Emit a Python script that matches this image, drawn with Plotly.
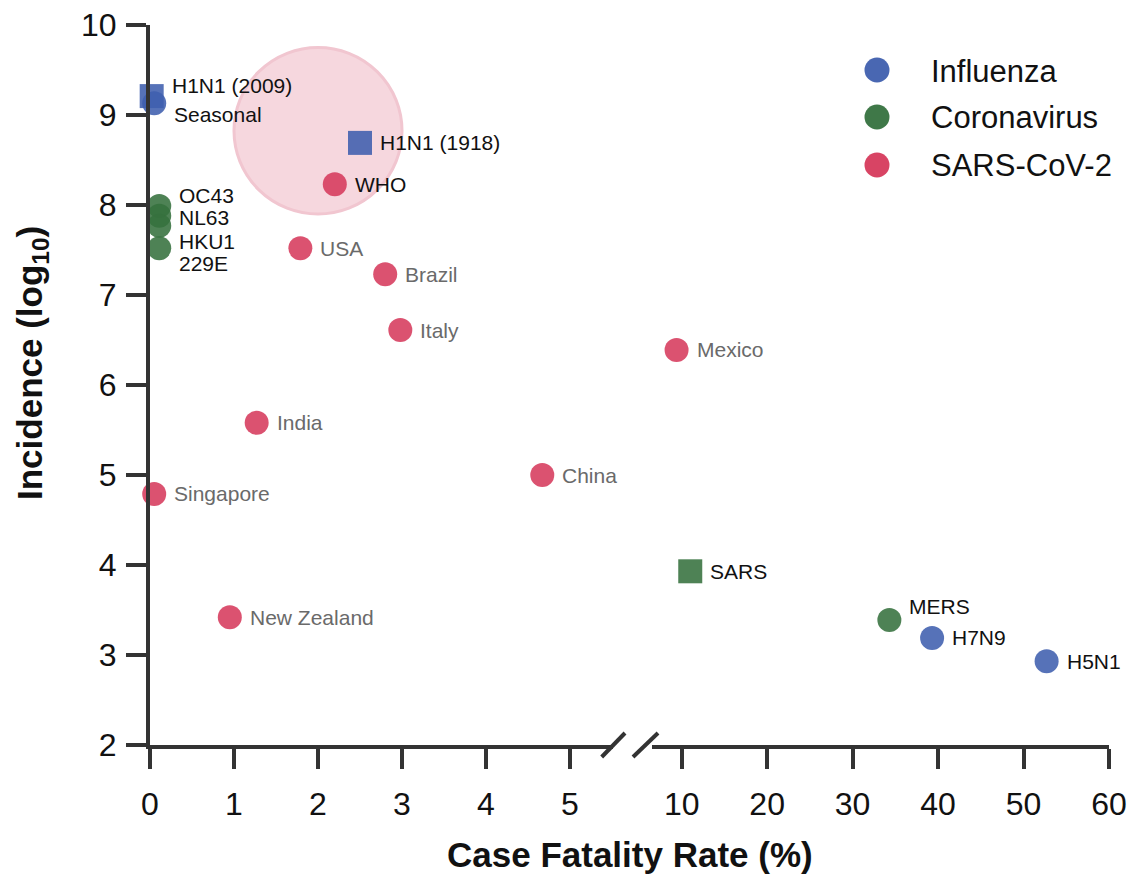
import plotly.graph_objects as go

# ---------------- data ----------------
flu_names = ["H1N1 (2009)", "Seasonal", "H1N1 (1918)", "H7N9", "H5N1"]
flu_cfr = [0.02, 0.05, 2.5, 39.3, 52.7]
flu_inc = [9.21, 9.13, 8.69, 3.19, 2.93]
flu_pandemic = [True, False, True, False, False]

cov_names = ["OC43", "NL63", "HKU1", "229E", "SARS", "MERS"]
cov_cfr = [0.11, 0.11, 0.11, 0.11, 11.0, 34.3]
cov_inc = [7.99, 7.88, 7.77, 7.52, 3.93, 3.39]
cov_pandemic = [False, False, False, False, True, False]

sc2_names = ["WHO", "USA", "Brazil", "Italy", "Mexico", "India", "China", "Singapore", "New Zealand"]
sc2_cfr = [2.2, 1.79, 2.8, 2.98, 9.4, 1.27, 4.67, 0.05, 0.95]
sc2_inc = [8.23, 7.52, 7.23, 6.61, 6.39, 5.58, 5.0, 4.79, 3.42]
sc2_pandemic = [False] * 9

highlight_cfr = [1.0, 3.0]
highlight_inc = [7.9, 9.75]

x_ticks_left = [0, 1, 2, 3, 4, 5]
x_ticks_right = [10, 20, 30, 40, 50, 60]
y_ticks = [2, 3, 4, 5, 6, 7, 8, 9, 10]

# ---------------- styling ----------------
BREAK = 6.0
FONT = "Liberation Sans, Arial, sans-serif"
AX = "#333333"
groups = [
    ("Influenza", flu_names, flu_cfr, flu_inc, flu_pandemic, "#3F5FAE", "#111111"),
    ("Coronavirus", cov_names, cov_cfr, cov_inc, cov_pandemic, "#35713E", "#111111"),
    ("SARS-CoV-2", sc2_names, sc2_cfr, sc2_inc, sc2_pandemic, "#D63A5C", "#6A6A6A"),
]
label_dy = {"H1N1 (2009)": -11, "Seasonal": 11, "OC43": -10, "NL63": 2,
            "HKU1": 16, "229E": 15, "MERS": -13}
black_labels = {"WHO"}

# reference-pixel geometry (page coords); page body has an 8px margin
BODY = 8
PAGE_W, PAGE_H = 1147, 875
REF_L, REF_R, REF_T, REF_B = 150, 1109, 25, 745
W, H = PAGE_W - BODY, PAGE_H - BODY
ML, MT = REF_L - BODY, REF_T - BODY
MR, MB = W - (REF_R - BODY), H - (REF_B - BODY)
pw = REF_R - REF_L
ph = REF_B - REF_T


def px_x(xpx):
    return (xpx - REF_L) / pw


def px_y(ypx):
    return (REF_B - ypx) / ph


left_end_px = 613
right_start_px = 652

fig = go.Figure()
annotations = []

for gname, names, cfr, inc, pand, color, lcol in groups:
    for want_sq in (True, False):
        for side in ("x", "x2"):
            idx = [i for i in range(len(names))
                   if pand[i] == want_sq and ((cfr[i] >= BREAK) == (side == "x2"))]
            if not idx:
                continue
            fig.add_trace(go.Scatter(
                x=[cfr[i] for i in idx], y=[inc[i] for i in idx],
                mode="markers", xaxis=side, yaxis="y",
                marker=dict(size=24, color=color, opacity=0.88,
                            symbol="square" if want_sq else "circle",
                            line=dict(width=0)),
                name=gname, showlegend=False, cliponaxis=False,
                hovertext=[names[i] for i in idx],
            ))
    for i, n in enumerate(names):
        side = "x2" if cfr[i] >= BREAK else "x"
        annotations.append(dict(
            x=cfr[i], y=inc[i], xref=side, yref="y", text=n, showarrow=False,
            xanchor="left", yanchor="middle", xshift=18, yshift=-label_dy.get(n, 0),
            font=dict(family=FONT, size=21, color="#111111" if n in black_labels else lcol),
        ))

shapes = []
leg_y_px = [70, 117, 165]
for g, ypx in zip(groups, leg_y_px):
    gname, color = g[0], g[5]
    shapes.append(dict(type="circle", xref="paper", yref="paper",
                       xsizemode="pixel", ysizemode="pixel",
                       xanchor=px_x(877), yanchor=px_y(ypx), x0=-12.5, x1=12.5, y0=-12.5, y1=12.5,
                       fillcolor=color, line=dict(width=0), opacity=0.95))
    annotations.append(dict(x=px_x(929), y=px_y(ypx + 1), xref="paper", yref="paper",
                            text=gname, showarrow=False, xanchor="left", yanchor="middle",
                            font=dict(family=FONT, size=31, color="#111111")))

shapes.append(dict(type="circle", xref="x", yref="y", layer="below",
                   x0=highlight_cfr[0], x1=highlight_cfr[1],
                   y0=highlight_inc[0], y1=highlight_inc[1],
                   fillcolor="#F6D7DE", line=dict(color="#F1C6D0", width=3)))

for x0px, x1px in [(601.7, 625), (633, 658)]:
    shapes.append(dict(type="line", xref="paper", yref="paper",
                       x0=px_x(x0px), x1=px_x(x1px), y0=px_y(757), y1=px_y(733),
                       line=dict(color=AX, width=4)))

annotations.append(dict(x=px_x(630), y=px_y(855), xref="paper", yref="paper",
                        text="<b>Case Fatality Rate (%)</b>", showarrow=False,
                        xanchor="center", yanchor="middle",
                        font=dict(family=FONT, size=35, color="#111111")))
annotations.append(dict(x=px_x(32), y=px_y(363), xref="paper", yref="paper",
                        text="<b>Incidence (log<sub>10</sub>)</b>", showarrow=False,
                        textangle=-90, xanchor="center", yanchor="middle",
                        font=dict(family=FONT, size=35, color="#111111")))

px_per_left = 84.0
px_per_right = 427.3 / 50
left_range = [0, (left_end_px - REF_L) / px_per_left]
right_range = [10 - (681.7 - right_start_px) / px_per_right, 60]

common_x = dict(showgrid=False, zeroline=False, showline=True, linecolor=AX, linewidth=4,
                ticks="outside", ticklen=20, tickwidth=4, tickcolor=AX, automargin=False,
                ticklabelstandoff=8, ticklabeloverflow="allow",
                tickfont=dict(family=FONT, size=32, color="#111111"))

fig.update_layout(
    width=W, height=H,
    margin=dict(l=ML, r=MR, t=MT, b=MB, pad=0, autoexpand=False),
    paper_bgcolor="white", plot_bgcolor="white",
    showlegend=False,
    xaxis=dict(domain=[0, px_x(left_end_px)], range=left_range, tickvals=x_ticks_left,
               anchor="y", **common_x),
    xaxis2=dict(domain=[px_x(right_start_px), 1], range=right_range, tickvals=x_ticks_right,
                anchor="y", **common_x),
    yaxis=dict(range=[2, 10], tickvals=y_ticks, showgrid=False, zeroline=False,
               showline=True, linecolor=AX, linewidth=4, ticks="outside", ticklen=20,
               tickwidth=4, tickcolor=AX, ticklabelstandoff=3, automargin=False,
               ticklabeloverflow="allow",
               tickfont=dict(family=FONT, size=32, color="#111111"), anchor="x"),
    shapes=shapes,
    annotations=annotations,
)

fig.write_html("out.html")
